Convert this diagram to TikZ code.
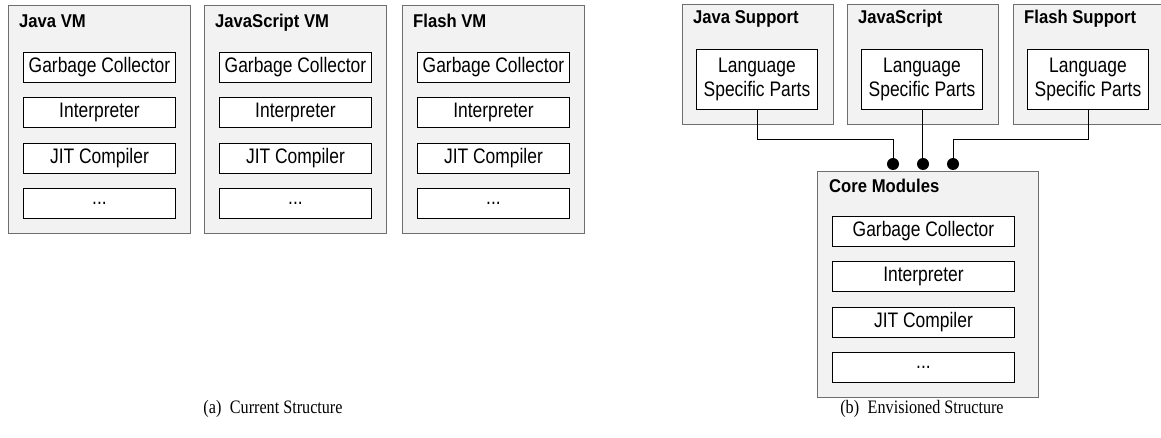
\documentclass[tikz,border=0pt]{standalone}
\usepackage{fontspec}
\setmainfont{Liberation Sans}
\newfontfamily\boxfont[FakeStretch=0.83]{Liberation Sans}
\newfontfamily\titlefont[FakeStretch=0.9]{Liberation Sans}
\newfontfamily\capfont[FakeStretch=0.85]{Liberation Serif}
\definecolor{boxfill}{HTML}{F2F2F2}
\definecolor{boxline}{HTML}{6E6E6E}
\begin{document}
\begin{tikzpicture}[x=1pt,y=-1pt,
  outer/.style={draw=boxline,fill=boxfill,line width=1pt,anchor=north west,inner sep=0pt},
  inner/.style={draw=black,fill=white,line width=0.9pt,anchor=north west,inner sep=0pt,
     font=\boxfont\fontsize{21}{24}\selectfont,align=center},
  ttl/.style={anchor=base west,inner sep=0pt,font=\titlefont\fontsize{18.5}{21}\selectfont\bfseries},
  captxt/.style={anchor=base,inner sep=0pt,font=\capfont\fontsize{19}{22}\selectfont},
  conn/.style={draw=black,line width=0.9pt},
  bullet/.style={circle,fill=black,inner sep=0pt,minimum size=12pt}]
\useasboundingbox (0,0) rectangle (1161,438);
% ---------- (a) current structure ----------
\foreach \n/\x/\t in {a/8/Java VM,b/204/JavaScript VM,c/402/Flash VM}{
  \node[outer,minimum width=182pt,minimum height=228pt] (vm\n) at (\x,5) {};
  \node[ttl] (vm\n t) at (\x+11,28) {\t};
  \node[inner,minimum width=152pt,minimum height=30pt] (vm\n g) at (\x+15,52) {Garbage Collector};
  \node[inner,minimum width=152pt,minimum height=30pt] (vm\n i) at (\x+15,97) {Interpreter};
  \node[inner,minimum width=152pt,minimum height=30pt] (vm\n j) at (\x+15,143) {JIT Compiler};
  \node[inner,minimum width=152pt,minimum height=30pt] (vm\n e) at (\x+15,188) {...};
}
\node[captxt] (capa) at (273,413) {(a)\hspace{0.45em}Current Structure};
% ---------- (b) envisioned structure ----------
\foreach \n/\x/\t in {a/682/Java Support,b/847/JavaScript,c/1013/Flash Support}{
  \node[outer,minimum width=151pt,minimum height=120pt] (ls\n) at (\x,4) {};
  \node[ttl] (ls\n t) at (\x+11,24) {\t};
  \node[inner,minimum width=121pt,minimum height=60pt] (ls\n p) at (\x+14,49) {Language\\Specific Parts};
}
\node[outer,minimum width=221pt,minimum height=226pt] (core) at (817,171) {};
\node[ttl] (coret) at (829,193) {Core Modules};
\node[inner,minimum width=182pt,minimum height=30pt] (cg) at (832,216) {Garbage Collector};
\node[inner,minimum width=182pt,minimum height=30pt] (ci) at (832,261) {Interpreter};
\node[inner,minimum width=182pt,minimum height=30pt] (cj) at (832,307) {JIT Compiler};
\node[inner,minimum width=182pt,minimum height=30pt] (ce) at (832,352) {...};
\coordinate (d1) at (893,164);
\coordinate (d2) at (923,164);
\coordinate (d3) at (953,164);
\draw[conn] (lsap.south) -- ++(0,30) -| (d1);
\draw[conn] (lsbp.south) -- (lsbp.south |- d2);
\draw[conn] (lscp.south) -- ++(0,30) -| (d3);
\node[bullet] (b1) at (d1) {};
\node[bullet] (b2) at (d2) {};
\node[bullet] (b3) at (d3) {};
\node[captxt] (capb) at (922,413) {(b)\hspace{0.45em}Envisioned Structure};
\end{tikzpicture}
\end{document}
